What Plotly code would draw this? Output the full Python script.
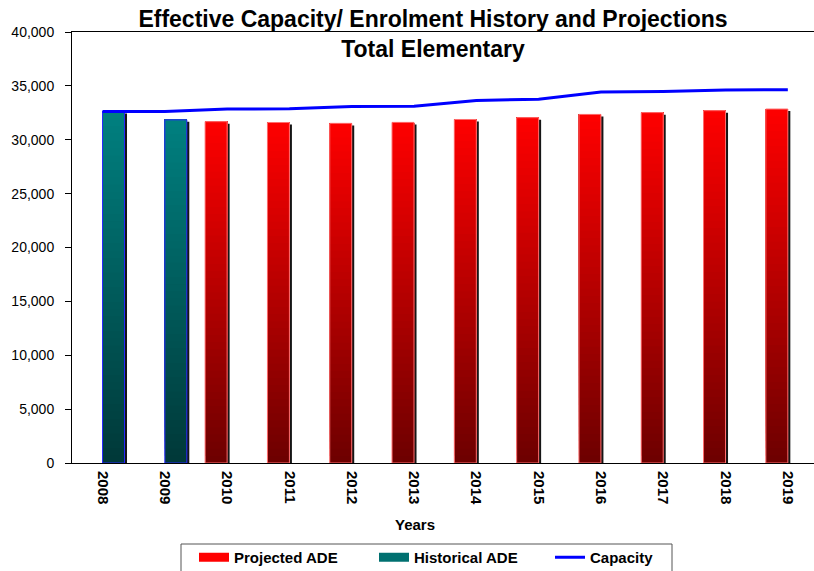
import plotly.graph_objects as go

# ---------------- data ----------------
years = ["2008", "2009", "2010", "2011", "2012", "2013",
         "2014", "2015", "2016", "2017", "2018", "2019"]
historical_ade = [32620, 31850, None, None, None, None,
                  None, None, None, None, None, None]
projected_ade = [None, None, 31680, 31600, 31520, 31610,
                 31880, 32050, 32350, 32520, 32700, 32850]
capacity = [32620, 32620, 32850, 32880, 33080, 33110,
            33640, 33760, 34420, 34470, 34620, 34650]

y_ticks = [0, 5000, 10000, 15000, 20000, 25000, 30000, 35000, 40000]

FONT = "Liberation Sans, Arial, sans-serif"
BAR_W = 0.353          # bar width in category units
SHADOW_DX = 0.04       # shadow horizontal shift (category units)
SHADOW_DY = 190        # shadow vertical drop (data units ~2px)
N_STEPS = 48           # gradient steps

# plot-area geometry (pixels) used to place paper-referenced items
PL, PR, PT, PB = 72, 814, 32, 463


def px_x(px):
    return (px - PL) / (PR - PL)


def px_y(py):
    return (PB - py) / (PB - PT)


def lerp(c0, c1, t):
    return "rgb(%d,%d,%d)" % tuple(round(a + (b - a) * t) for a, b in zip(c0, c1))


def bar_series(values, bottom_rgb, top_rgb, offset, outline, group, name):
    traces = []
    # drop shadow
    traces.append(go.Bar(
        x=years, y=[None if v is None else v - SHADOW_DY for v in values],
        offset=offset + SHADOW_DX, width=BAR_W,
        marker=dict(color="#151515", line=dict(width=0)),
        showlegend=False, legendgroup=group, hoverinfo="skip"))
    # vertical gradient body
    for k in range(N_STEPS):
        f = k / N_STEPS
        traces.append(go.Bar(
            x=years,
            y=[None if v is None else v * (1 - f) for v in values],
            base=[None if v is None else v * f for v in values],
            offset=offset, width=BAR_W,
            marker=dict(color=lerp(bottom_rgb, top_rgb, (k + 0.5) / N_STEPS),
                        line=dict(width=0)),
            showlegend=False, legendgroup=group, hoverinfo="skip"))
    # outline (also carries hover)
    traces.append(go.Bar(
        x=years, y=values, offset=offset, width=BAR_W, name=name,
        marker=dict(color="rgba(0,0,0,0)", line=dict(color=outline, width=1)),
        showlegend=False, legendgroup=group,
        hovertemplate="%{x}: %{y:,}<extra>" + name + "</extra>"))
    return traces


fig = go.Figure()

for t in bar_series(projected_ade, (108, 0, 0), (255, 0, 0), -BAR_W,
                    "rgb(255,110,110)", "proj", "Projected ADE"):
    fig.add_trace(t)
for t in bar_series(historical_ade, (0, 56, 56), (0, 128, 128), 0.0,
                    "rgb(40,40,255)", "hist", "Historical ADE"):
    fig.add_trace(t)

fig.add_trace(go.Scatter(
    x=years, y=capacity, mode="lines", name="Capacity",
    line=dict(color="#0000FF", width=3), showlegend=False,
    legendgroup="cap"))

# legend entries
fig.add_trace(go.Scatter(x=[None], y=[None], mode="lines", name="Projected ADE",
                         line=dict(color="#FF0000", width=9), legendgroup="proj",
                         legend="legend"))
fig.add_trace(go.Scatter(x=[None], y=[None], mode="lines", name="Historical ADE",
                         line=dict(color="#007070", width=9), legendgroup="hist",
                         legend="legend"))
fig.add_trace(go.Scatter(x=[None], y=[None], mode="lines", name="Capacity",
                         line=dict(color="#0000FF", width=3), legendgroup="cap",
                         legend="legend2"))

legend_font = dict(family=FONT, size=15, weight="bold", color="black")

fig.update_layout(
    width=814, height=571,
    margin=dict(l=PL, r=814 - PR, t=PT, b=571 - PB, autoexpand=False),
    paper_bgcolor="white", plot_bgcolor="white",
    barmode="overlay",
    font=dict(family=FONT, color="black"),
    title=dict(
        text="Effective Capacity/ Enrolment History and Projections<br>Total Elementary",
        x=433 / 814, xanchor="center", xref="container",
        y=1 - 27 / 571, yanchor="top", yref="container",
        font=dict(family=FONT, size=23, weight="bold", color="black")),
    showlegend=True,
    legend=dict(orientation="h", x=px_x(194), xanchor="left",
                y=px_y(541), yanchor="top", entrywidth=135,
                bgcolor="rgba(0,0,0,0)", borderwidth=0,
                font=legend_font, traceorder="normal"),
    legend2=dict(orientation="h", x=px_x(550), xanchor="left",
                 y=px_y(541), yanchor="top",
                 bgcolor="rgba(0,0,0,0)", borderwidth=0,
                 font=legend_font),
    shapes=[dict(type="rect", xref="paper", yref="paper", layer="below",
                 x0=px_x(181), x1=px_x(672), y0=px_y(544), y1=px_y(620),
                 line=dict(color="#555555", width=1), fillcolor="white")],
    annotations=[dict(text="Years", xref="paper", yref="paper",
                      x=px_x(415), y=px_y(524),
                      xanchor="center", yanchor="middle", showarrow=False,
                      font=dict(family=FONT, size=15, weight="bold"))],
)

fig.update_xaxes(
    type="category", range=[-0.49, 11.42], automargin=False,
    showline=True, linecolor="black", linewidth=1, mirror=True,
    ticks="", tickangle=90, showgrid=False,
    tickfont=dict(family=FONT, size=15, weight="bold"), ticklabelstandoff=4)
fig.update_yaxes(
    range=[0, 40000], tickvals=y_ticks, tickformat=",", automargin=False,
    showline=True, linecolor="black", linewidth=1,
    ticks="outside", ticklen=6, tickcolor="black",
    showgrid=False, zeroline=False,
    tickfont=dict(family=FONT, size=14), ticklabelstandoff=8)

fig.write_html(
    "out.html",
    config={"displayModeBar": False},
    post_script="document.body.style.margin='0';document.body.style.overflow='hidden';")
